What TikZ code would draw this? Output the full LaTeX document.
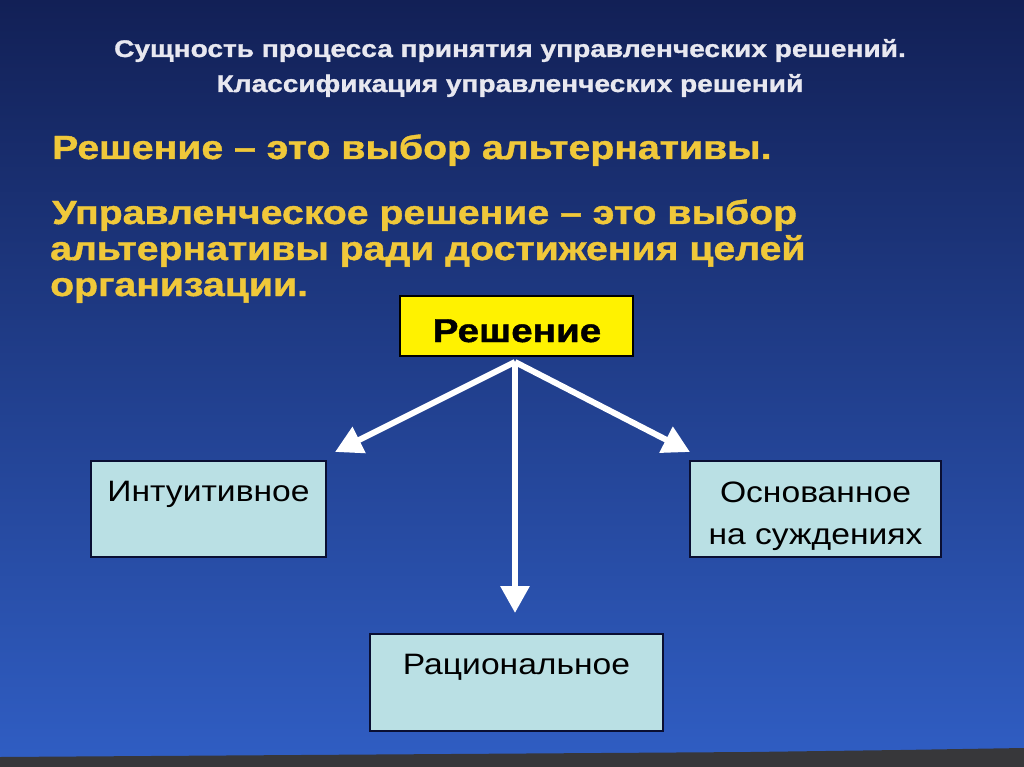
\documentclass[tikz,border=0pt]{standalone}
\usepackage{fontspec}
\setmainfont{Liberation Sans}
\newfontfamily\widebold[FakeStretch=1.17,FakeBold=1.2]{Liberation Sans Bold}
\newfontfamily\wideregular[FakeStretch=1.14]{Liberation Sans}
\usetikzlibrary{arrows.meta}
\definecolor{bgtop}{RGB}{18,32,86}
\definecolor{bgbot}{RGB}{48,94,196}
\definecolor{ytext}{RGB}{240,200,58}
\definecolor{boxfill}{RGB}{186,224,228}
\definecolor{boxline}{RGB}{10,15,50}
\definecolor{titlecol}{RGB}{232,232,240}
\definecolor{strip}{RGB}{55,55,58}
\begin{document}
\begin{tikzpicture}[x=1pt,y=-1pt,
  titletext/.style={text=titlecol,font=\widebold\fontsize{24}{28}\selectfont,inner sep=0pt,anchor=base},
  ylw/.style={text=ytext,font=\widebold\fontsize{33.5}{38}\selectfont,anchor=base west,inner sep=0pt},
  kind/.style={draw=boxline,line width=2.2pt,fill=boxfill,inner sep=0pt},
  kindtext/.style={font=\wideregular\fontsize{29.5}{34}\selectfont,anchor=base,inner sep=0pt,text=black},
  whitearrow/.style={draw=white,line width=6pt,-{Triangle[width=28pt,length=27pt]}}]
\useasboundingbox (0,0) rectangle (1024,767);
\shade[top color=bgtop,bottom color=bgbot] (0,0) rectangle (1024,767);
\fill[strip] (0,767) -- (0,757) -- (150,756) -- (300,755) -- (450,754) -- (600,753) -- (750,752) -- (900,750) -- (1024,748) -- (1024,767) -- cycle;
% titles
\node[titletext] (t1) at (510,57) {Сущность процесса принятия управленческих решений.};
\node[titletext] (t2) at (510,92) {Классификация управленческих решений};
% yellow definitions
\node[ylw] (d1) at (52,159) {Решение – это выбор альтернативы.};
\node[ylw] (d2) at (52,224) {Управленческое решение – это выбор};
\node[ylw] (d3) at (50,260) {альтернативы ради достижения целей};
\node[ylw] (d4) at (50,296) {организации.};
% main box
\node[draw=black,line width=2.2pt,fill=yellow,minimum width=233pt,minimum height=60pt,inner sep=0pt] (root) at (516.5,326) {};
\node[anchor=base,inner sep=0pt,font=\widebold\fontsize{33}{36}\selectfont] (roott) at (517,342) {Решение};
% kind boxes
\node[kind,minimum width=235pt,minimum height=96pt] (intu) at (208.5,509) {};
\node[kindtext] (intut) at (208.5,501) {Интуитивное};
\node[kind,minimum width=251pt,minimum height=96pt] (osn) at (815.5,509) {};
\node[kindtext] (osnt1) at (815.5,502) {Основанное};
\node[kindtext] (osnt2) at (815.5,544) {на суждениях};
\node[kind,minimum width=293pt,minimum height=97pt] (rat) at (516.5,682.5) {};
\node[kindtext] (ratt) at (516.5,674) {Рациональное};
% arrows
\coordinate (split) at (515,362);
\coordinate (tipl) at (335,452);
\coordinate (tipr) at (690,452);
\coordinate (tipd) at (515,613);
\draw[whitearrow] (split) -- (tipl);
\draw[whitearrow] (split) -- (tipr);
\draw[whitearrow] (split) -- (tipd);
\end{tikzpicture}
\end{document}
